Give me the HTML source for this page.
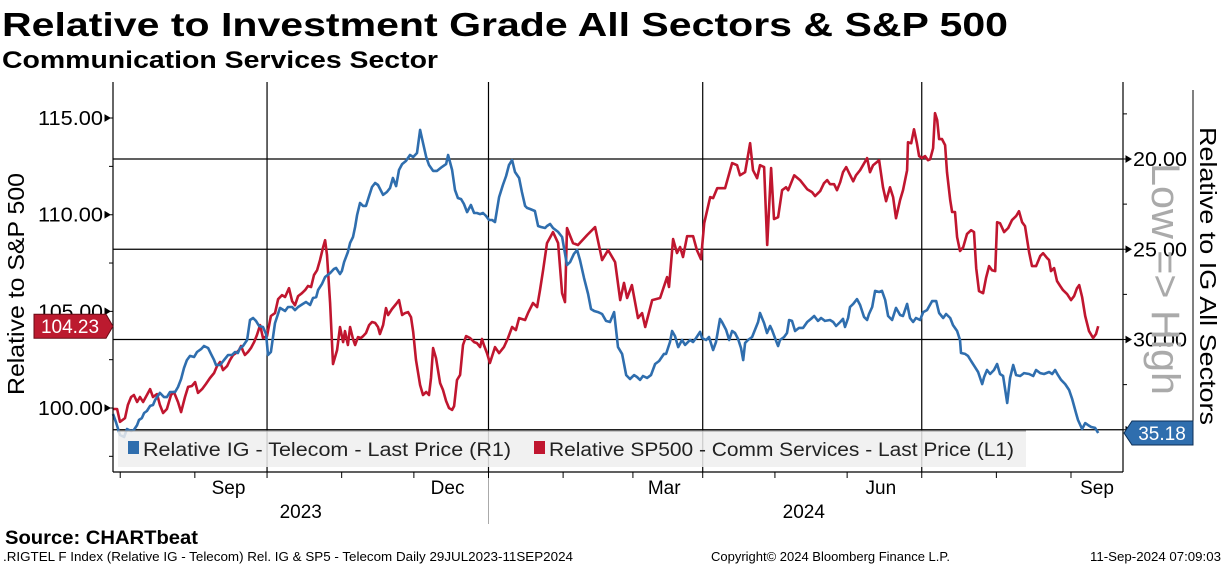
<!DOCTYPE html>
<html><head><meta charset="utf-8"><style>
html,body{margin:0;padding:0;background:#fff;}
svg{display:block;font-family:"Liberation Sans","DejaVu Sans",sans-serif;}
</style></head><body>
<svg id="chart" width="1224" height="566" viewBox="0 0 1224 566" xmlns="http://www.w3.org/2000/svg">
<text x="2" y="36" font-size="33" font-weight="bold" textLength="1006" lengthAdjust="spacingAndGlyphs">Relative to Investment Grade All Sectors &amp; S&amp;P 500</text>
<text x="2" y="68" font-size="24" font-weight="bold" textLength="436" lengthAdjust="spacingAndGlyphs">Communication Services Sector</text>
<g id="grid"></g>
<g id="series"></g>
<g id="legend">
  <rect x="118" y="431" width="908" height="36" fill="#efefef" fill-opacity="0.85"/>
  <line x1="118" y1="431" x2="1026" y2="431" stroke="#999" stroke-width="1"/>
  <rect x="128" y="441" width="11" height="13" fill="#2f6eae"/>
  <text x="143" y="456" font-size="19" fill="#222" textLength="368" lengthAdjust="spacingAndGlyphs">Relative IG - Telecom - Last Price (R1)</text>
  <rect x="534" y="441" width="11" height="13" fill="#c0162f"/>
  <text x="549" y="456" font-size="19" fill="#222" textLength="465" lengthAdjust="spacingAndGlyphs">Relative SP500 - Comm Services - Last Price (L1)</text>
</g>
<g id="axes"></g>
<text transform="translate(24,284) rotate(-90)" text-anchor="middle" font-size="23" textLength="222" lengthAdjust="spacingAndGlyphs">Relative to S&amp;P 500</text>
<text transform="translate(1200,276) rotate(90)" text-anchor="middle" font-size="23" textLength="298" lengthAdjust="spacingAndGlyphs">Relative to IG All Sectors</text>
<text transform="translate(1152,279) rotate(90)" text-anchor="middle" font-size="40" fill="#aaa" textLength="232" lengthAdjust="spacingAndGlyphs">Low =&gt; High</text>
<text x="5" y="544" font-size="19" font-weight="bold" textLength="193" lengthAdjust="spacingAndGlyphs">Source: CHARTbeat</text>
<text x="3" y="561" font-size="12.5" textLength="570" lengthAdjust="spacingAndGlyphs">.RIGTEL F Index (Relative IG - Telecom) Rel. IG &amp; SP5 - Telecom  Daily 29JUL2023-11SEP2024</text>
<text x="711" y="561" font-size="12.5" textLength="239" lengthAdjust="spacingAndGlyphs">Copyright© 2024 Bloomberg Finance L.P.</text>
<text x="1090" y="561" font-size="12.5" textLength="131" lengthAdjust="spacingAndGlyphs">11-Sep-2024 07:09:03</text>
</svg>
<script>
// Days since 29-Jul-2023 and values
const spDays=[0,1.7,2.9,5.0,6.2,7.5,8.7,10.0,11.2,12.5,14.1,15.4,16.6,18.3,19.5,20.8,22.4,24.1,25.3,27.0,28.3,29.9,31.2,32.8,34.1,35.3,37.0,38.6,40.3,42.0,43.2,44.5,45.7,47.4,48.6,49.9,51.1,52.4,53.2,54.0,54.8,56.1,57.3,58.6,59.8,61.1,62.3,64.0,65.6,67.3,68.6,70.2,71.5,73.1,74.4,75.6,76.9,78.5,79.8,81.0,82.3,83.5,84.8,86.0,87.3,88.1,88.9,90.2,91.4,93.1,94.3,95.6,96.4,97.6,98.5,99.7,100.6,101.8,103.0,103.9,105.1,106.4,107.6,108.9,110.1,110.9,112.2,113.4,114.3,115.9,117.6,118.8,120.1,121.3,122.6,123.8,124.7,125.9,127.6,128.8,130.1,131.3,132.1,133.0,134.2,135.9,137.1,138.4,139.6,140.9,141.7,142.9,144.2,145.4,146.7,148.3,150.0,151.2,152.5,153.3,154.1,155.4,156.6,158.7,160.4,162.4,164.1,165.8,167.4,168.7,171.2,172.4,174.5,176.2,177.4,178.7,180.3,182.8,184.9,186.6,187.8,188.6,191.1,193.2,197.0,200.3,203.2,205.7,208.6,210.7,212.3,213.6,215.6,218.1,219.8,221.1,224.0,227.3,230.2,231.0,232.7,234.3,235.6,236.8,238.5,241.0,242.6,244.3,245.6,248.1,249.3,251.0,254.3,257.2,259.3,260.5,262.6,264.7,265.9,267.6,268.8,270.5,271.8,273.4,274.6,276.3,278.0,279.6,280.5,283.0,285.4,288.4,290.4,291.7,293.8,295.4,296.7,297.9,299.6,300.8,302.1,303.3,304.6,305.8,307.5,308.7,310.4,311.6,313.3,314.5,315.8,318.3,319.9,321.2,322.8,324.1,325.3,327.0,328.2,329.9,330.3,331.6,332.8,334.0,334.9,336.1,337.4,338.6,339.5,340.7,341.5,342.4,343.2,344.4,345.7,346.5,347.8,348.6,349.8,350.7,351.9,353.2,354.8,356.5,357.7,358.6,359.8,361.5,362.7,364.0,365.2,366.5,367.3,368.5,370.2,371.9,373.5,375.2,376.4,377.7,378.9,380.6,381.8,383.5,385.2,386.4,388.1,388.9,389.7,391.0,392.2,393.5,394.7,396.4,398.0,399.3,400.5,401.4,402.6,403.9,405.5,407.2,408.4,409.3];
const spValues=[99.95,99.95,99.28,99.48,100.16,100.57,100.67,100.31,100.57,100.31,100.67,100.98,100.57,100.72,100.16,99.74,99.95,100.67,100.83,100.31,99.79,100.57,101.09,101.14,101.34,100.78,100.98,101.24,101.55,101.81,102.17,102.38,101.96,102.17,102.48,102.74,102.84,103.00,103.21,102.95,102.74,102.90,103.10,103.41,103.77,104.29,103.62,103.72,104.76,104.91,105.63,105.84,105.74,106.20,105.53,105.32,105.79,105.94,106.10,106.31,106.26,106.88,107.13,107.65,108.32,108.68,107.91,105.43,102.27,103.00,104.19,103.41,103.98,103.26,104.19,103.57,103.26,103.67,103.62,103.72,103.88,104.29,104.45,104.40,104.19,103.83,104.29,105.17,104.81,105.12,105.38,105.58,104.81,104.91,104.96,104.70,103.93,102.48,101.19,100.67,100.83,100.67,101.55,103.10,102.58,101.29,100.93,100.36,100.00,99.90,100.10,101.45,101.71,103.26,103.72,103.62,103.41,103.36,103.15,103.57,103.26,102.84,102.33,103.15,102.84,103.15,103.62,104.19,104.03,104.65,104.55,104.91,105.43,105.22,106.10,107.13,108.53,109.10,108.53,105.94,105.48,109.31,108.53,108.43,108.95,109.36,107.65,108.17,107.55,105.58,106.47,105.69,106.36,104.65,104.91,104.19,105.58,105.69,106.77,106.26,108.74,108.02,108.33,107.81,108.89,108.89,108.17,107.70,109.56,110.91,110.86,111.37,111.37,112.67,112.56,112.04,112.20,113.70,112.30,111.89,112.56,112.46,108.43,112.41,109.77,109.87,111.27,111.42,111.27,112.04,111.79,111.32,111.17,110.96,111.22,111.63,111.79,111.58,111.58,111.27,111.68,112.20,112.46,112.15,111.73,112.04,112.30,112.56,112.93,112.20,112.56,112.82,111.42,110.70,111.42,110.91,109.82,110.76,111.27,112.30,113.75,113.70,114.42,113.70,113.03,112.93,113.03,112.82,112.87,113.44,115.25,114.89,113.91,113.91,113.60,112.20,110.76,110.14,110.14,108.84,108.12,108.32,109.00,109.20,109.10,107.24,106.05,105.94,106.72,107.34,107.13,107.08,109.61,109.56,109.10,109.31,109.72,109.93,110.18,109.61,109.41,108.06,107.34,107.34,107.86,108.01,107.75,107.65,107.08,107.24,106.57,106.31,106.10,105.89,105.58,105.79,106.20,106.36,105.74,104.76,103.98,103.62,103.83,104.23];
const igDays=[0,1.2,2.9,4.6,5.8,7.5,8.7,10.0,10.8,12.0,12.9,14.1,15.4,16.6,17.5,19.5,21.2,22.4,23.7,25.8,27.0,28.3,29.5,30.7,32.0,33.7,34.9,36.6,37.8,39.5,40.7,42.0,42.8,44.5,46.1,47.8,49.4,50.7,51.9,52.8,54.0,55.7,56.9,58.2,59.4,60.7,62.3,63.6,64.4,65.6,67.3,69.4,71.5,72.7,74.4,75.6,76.9,78.9,80.2,81.9,83.1,84.4,85.2,86.8,88.1,90.2,91.8,92.7,94.3,95.1,96.0,97.6,98.5,99.7,100.6,101.4,102.6,103.9,105.1,106.4,107.6,108.9,110.1,112.2,113.8,115.1,116.3,117.6,118.8,120.1,121.7,123.4,124.7,126.3,127.6,128.8,130.1,131.3,133.0,134.6,136.7,138.4,139.2,140.9,142.1,143.3,144.6,145.8,147.1,148.7,150.0,151.2,152.5,153.7,155.0,156.2,157.5,158.7,160.4,162.0,163.3,164.5,165.8,167.0,168.7,169.9,171.2,172.0,173.3,175.3,176.6,177.8,179.5,180.3,181.6,182.8,184.9,186.6,188.6,189.9,191.5,192.8,194.0,195.7,197.4,198.6,199.9,201.5,203.2,204.8,206.5,208.2,209.8,211.5,213.2,214.8,216.5,217.7,219.0,220.2,221.9,223.5,225.2,226.9,228.9,229.8,231.4,232.3,233.5,234.8,236.4,237.7,239.7,241.0,242.2,243.9,244.7,246.4,247.6,249.3,250.5,252.2,253.0,254.7,256.0,257.2,258.4,259.7,260.9,261.8,262.6,263.8,265.5,268.0,268.8,270.5,271.7,273.0,273.8,275.5,276.3,277.1,278.8,280.0,280.9,282.1,283.4,285.0,286.7,288.4,290.0,291.3,292.9,294.2,295.8,297.9,299.2,300.4,302.1,303.3,304.1,305.4,306.2,307.5,309.1,310.4,312.0,313.3,314.1,315.4,316.6,318.3,319.5,320.8,322.0,323.7,325.3,327.0,328.2,329.9,331.1,332.4,333.6,335.3,336.6,338.2,340.3,342.0,343.2,344.9,346.1,347.8,349.0,350.7,351.9,352.3,354.0,355.2,356.5,358.1,359.4,361.1,361.9,363.1,364.4,366.0,367.3,368.5,369.8,371.5,372.7,374.0,375.2,376.9,378.5,380.6,382.3,383.5,385.2,386.8,388.9,390.2,391.4,392.6,393.9,395.6,397.2,398.5,400.1,400.9,402.6,403.9,405.1,406.4,408.0,409.3];
const igValues=[34.13,34.57,35.29,35.40,34.96,35.07,35.01,34.74,34.46,34.35,34.07,33.96,33.68,33.63,33.35,32.96,33.19,33.19,32.91,32.91,32.63,32.19,31.58,31.14,30.91,30.97,30.69,30.53,30.36,30.47,30.80,31.14,31.41,31.41,31.14,30.86,30.86,30.69,30.75,30.47,30.36,30.03,28.92,28.81,28.97,29.25,29.31,29.70,30.86,30.69,29.09,28.25,28.42,28.20,28.20,28.37,28.20,28.03,27.92,28.09,27.70,27.65,27.26,26.93,26.54,26.32,26.09,26.04,26.37,26.20,25.71,25.15,24.65,24.32,23.77,23.10,22.44,22.60,22.60,22.05,21.55,21.33,21.44,21.99,21.83,21.61,21.05,21.50,20.61,20.28,20.11,19.78,19.89,19.67,18.39,19.11,19.89,20.33,20.66,20.66,20.44,20.28,19.78,20.61,21.72,22.16,22.22,22.49,22.94,22.55,22.99,22.99,23.05,22.99,23.16,23.38,23.38,23.49,22.11,21.44,20.94,20.33,20.06,20.72,21.05,21.83,22.60,22.71,22.77,22.88,23.71,23.77,23.82,23.71,23.60,23.82,24.04,24.32,25.87,25.71,25.26,25.04,25.60,26.59,27.48,28.31,28.42,28.48,28.59,28.97,29.03,28.48,30.42,30.80,31.97,32.19,31.97,32.08,32.24,32.02,32.13,31.97,31.36,31.19,30.80,30.80,30.14,29.53,29.81,30.42,30.03,30.30,30.03,30.14,29.92,29.58,29.92,30.03,29.86,30.58,30.14,28.86,29.03,29.47,30.03,29.53,29.64,29.97,30.47,31.14,30.19,30.03,29.86,29.03,28.53,29.09,29.64,29.25,29.47,30.08,30.36,30.03,29.86,29.64,28.92,28.97,29.53,29.36,29.36,29.03,28.86,28.70,28.97,28.81,28.97,28.92,29.03,29.25,29.03,28.86,29.31,28.81,28.20,28.03,27.76,28.09,28.75,28.92,28.59,28.20,27.31,27.37,27.31,27.81,28.70,28.92,28.25,28.64,28.70,28.03,28.81,29.03,28.81,28.92,28.48,28.37,27.87,27.87,28.53,28.81,28.59,28.81,29.20,29.53,30.03,30.75,30.80,30.91,31.19,31.52,31.80,32.47,32.08,31.69,31.91,31.69,31.36,31.91,32.02,33.52,32.13,31.41,31.97,32.02,31.86,31.91,32.02,31.69,31.86,31.91,31.80,31.91,31.69,31.97,32.24,32.47,32.80,33.30,34.07,34.46,34.96,34.63,34.74,34.85,34.90,35.18];
const leftTicks=[100,105,110,115];
const leftTickLabels=["100.00","105.00","110.00","115.00"];
const rightTicks=[20,25,30,35];
const rightTickLabels=["20.00","25.00","30.00"];
const monthStarts=[3,34,64,95,125,156,187,216,245,275,305,336,367,398];
const quarterGrid=[64,156,245,336];
const monthLabels=["Sep","Dec","Mar","Jun","Sep"];
const monthLabelDays=[48,139,229,319,410];
const yearLabels=["2023","2024"];
const yearLabelDays=[78,287];

const NS="http://www.w3.org/2000/svg";
const X0=113, PXD=2.407;
function xs(d){return X0+d*PXD;}
function yl(v){return 408-(v-100)*19.33;}
function yr(v){return 159+(v-20)*18.05;}
function mk(tag,attrs,parent){const e=document.createElementNS(NS,tag);for(const k in attrs)e.setAttribute(k,attrs[k]);parent.appendChild(e);return e;}
const grid=document.getElementById('grid'), axes=document.getElementById('axes'), series=document.getElementById('series');

rightTicks.forEach(v=>{
  const l=mk('line',{x1:113,x2:1123,y1:yr(v),y2:yr(v),stroke:'#000','stroke-width':1.2},grid);
  
  
});
quarterGrid.forEach(d=>{
  const l=mk('line',{x1:xs(d),x2:xs(d),y1:82,y2:472,stroke:'#000','stroke-width':1.2},grid);
  
  
});

function path(days,vals,ys,color,name){
  let d='';
  for(let i=0;i<days.length;i++){d+=(i?'L':'M')+xs(days[i]).toFixed(1)+','+ys(vals[i]).toFixed(1);}
  const p=mk('path',{d:d,fill:'none',stroke:color,'stroke-width':2.6,'stroke-linejoin':'round'},series);
  
  
}
path(spDays,spValues,yl,'#c0162f','sp500-line');
path(igDays,igValues,yr,'#2f6eae','ig-line');

let a=mk('line',{x1:113,x2:113,y1:82,y2:472,stroke:'#000','stroke-width':1.2},axes);


a=mk('line',{x1:1123,x2:1123,y1:82,y2:472,stroke:'#000','stroke-width':1.2},axes);


a=mk('line',{x1:1193,x2:1193,y1:90,y2:425,stroke:'#000','stroke-width':1},axes);


a=mk('line',{x1:113,x2:1123,y1:472,y2:472,stroke:'#000','stroke-width':1.2},axes);



leftTicks.forEach((v,i)=>{
  const y=yl(v);
  const t=mk('path',{d:`M105,${y-3}L110,${y}L105,${y+3}Z M110,${y}L113,${y}`,fill:'#000',stroke:'#000','stroke-width':1},axes);
  
  
  const m=mk('line',{x1:109,x2:113,y1:yl(v-2.5),y2:yl(v-2.5),stroke:'#000'},axes);
  
  
  const tx=mk('text',{x:103,y:y+7,'font-size':20,'text-anchor':'end',textLength:65,lengthAdjust:'spacingAndGlyphs'},axes);
  tx.textContent=leftTickLabels[i];
  
  
});
rightTicks.forEach((v,i)=>{
  const y=yr(v);
  const t=mk('path',{d:`M1123,${y}L1126,${y} M1126,${y-3}L1131,${y}L1126,${y+3}Z`,fill:'#000',stroke:'#000','stroke-width':1},axes);
  
  
  const m=mk('line',{x1:1123,x2:1127,y1:yr(v-2.5),y2:yr(v-2.5),stroke:'#000'},axes);
  
  
  if(rightTickLabels[i]){
    const tx=mk('text',{x:1133,y:y+7,'font-size':20,textLength:54,lengthAdjust:'spacingAndGlyphs'},axes);
    tx.textContent=rightTickLabels[i];
    
    
  }
});
monthStarts.forEach(d=>{
  const l=mk('line',{x1:xs(d),x2:xs(d),y1:472,y2:478,stroke:'#000'},axes);
  
  
});
monthLabels.forEach((s,i)=>{
  const t=mk('text',{x:Math.min(xs(monthLabelDays[i]),1097),y:494,'font-size':19,'text-anchor':'middle'},axes);
  t.textContent=s;
  
  
});
yearLabels.forEach((s,i)=>{
  const t=mk('text',{x:xs(yearLabelDays[i]),y:518,'font-size':19,'text-anchor':'middle'},axes);
  t.textContent=s;
  
  
});
a=mk('line',{x1:xs(156),x2:xs(156),y1:478,y2:524,stroke:'#aaa','stroke-width':1},axes);



const lastSp=spValues[spValues.length-1], lastIg=igValues[igValues.length-1];
let ys=yl(lastSp);
let g=mk('path',{d:`M34,${ys-12}L106,${ys-12}L113,${ys}L106,${ys+12}L34,${ys+12}Z`,fill:'#bc1a2f',stroke:'#6a0a15','stroke-width':1},axes);


let tt=mk('text',{x:70,y:ys+7,'font-size':19,fill:'#fff','text-anchor':'middle'},axes);
tt.textContent=lastSp.toFixed(2);


ys=yr(lastIg);
g=mk('path',{d:`M1124,${ys}L1132,${ys-12}L1193,${ys-12}L1193,${ys+12}L1132,${ys+12}Z`,fill:'#2f6eae',stroke:'#0c2f55','stroke-width':1},axes);


tt=mk('text',{x:1162,y:ys+7,'font-size':19,fill:'#fff','text-anchor':'middle'},axes);
tt.textContent=lastIg.toFixed(2);


</script>
</body></html>
